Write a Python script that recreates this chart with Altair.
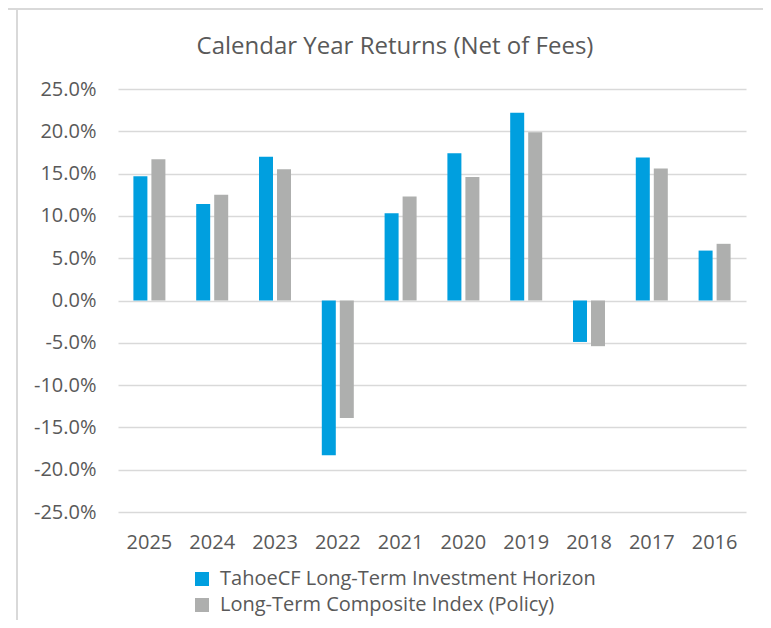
import altair as alt
import pandas as pd

years = ["2025", "2024", "2023", "2022", "2021", "2020", "2019", "2018", "2017", "2016"]
tahoe = [0.147, 0.114, 0.170, -0.183, 0.103, 0.174, 0.222, -0.049, 0.169, 0.059]
policy = [0.167, 0.125, 0.155, -0.139, 0.123, 0.146, 0.199, -0.054, 0.156, 0.067]
series = ["TahoeCF Long-Term Investment Horizon", "Long-Term Composite Index (Policy)"]
colors = ["#009FDF", "#AEAFAE"]
y_ticks = [-0.25, -0.20, -0.15, -0.10, -0.05, 0.0, 0.05, 0.10, 0.15, 0.20, 0.25]
title_text = ["Calendar Year Returns (Net of Fees)"]

rows = []
for i, yr in enumerate(years):
    rows.append({"year": yr, "series": series[0], "value": tahoe[i]})
    rows.append({"year": yr, "series": series[1], "value": policy[i]})
df = pd.DataFrame(rows)

FONT = "Open Sans"
TXT = "#595959"

bars = alt.Chart(df).mark_bar(size=14).encode(
    x=alt.X("year:N", sort=years, title=None,
            scale=alt.Scale(paddingInner=0, paddingOuter=0),
            axis=alt.Axis(labelAngle=0, labelFont=FONT, labelFontSize=20, labelColor=TXT,
                          domain=False, ticks=False, labelPadding=20, grid=False)),
    xOffset=alt.XOffset("series:N", sort=series,
                        scale=alt.Scale(paddingInner=0.222, paddingOuter=0.855)),
    y=alt.Y("value:Q", title=None,
            scale=alt.Scale(domain=[-0.25, 0.25], nice=False),
            axis=alt.Axis(values=y_ticks, labelFont=FONT, labelFontSize=20, labelColor=TXT,
                          labelExpr="(datum.value < -0.0001 ? '-' : '') + format(abs(datum.value), '.1%')",
                          domain=False, ticks=False, labelPadding=22,
                          gridColor="#D9D9D9", gridWidth=1.5)),
    color=alt.Color("series:N", sort=series,
                    scale=alt.Scale(domain=series, range=colors),
                    legend=alt.Legend(title=None, orient="none", legendX=74, legendY=480,
                                      direction="vertical", symbolType="square", symbolSize=196,
                                      symbolStrokeWidth=0, labelFont=FONT, labelFontSize=20,
                                      labelColor=TXT, labelOffset=8, rowPadding=6, padding=0,
                                      labelLimit=0)),
)

title = alt.Chart(pd.DataFrame({"t": title_text})).mark_text(
    font=FONT, fontSize=24, color=TXT, align="center", baseline="alphabetic"
).encode(text="t:N", x=alt.value(277), y=alt.value(-35.5))

frame_top = alt.Chart(pd.DataFrame({"k": [0]})).mark_rule(color="#D9D9D9", strokeWidth=2).encode(
    x=alt.value(-110), x2=alt.value(660), y=alt.value(-80))
frame_left = alt.Chart(pd.DataFrame({"k": [0]})).mark_rule(color="#D9D9D9", strokeWidth=2).encode(
    x=alt.value(-101), y=alt.value(-81), y2=alt.value(531))

chart = alt.layer(bars, title, frame_top, frame_left).properties(
    width=628, height=423,
    padding={"left": 110, "top": 81, "right": 17, "bottom": 108},
    autosize=alt.AutoSizeParams(type="none"),
).configure_view(stroke=None)

chart.save("out.html", embed_options={"renderer": "svg", "actions": False})
